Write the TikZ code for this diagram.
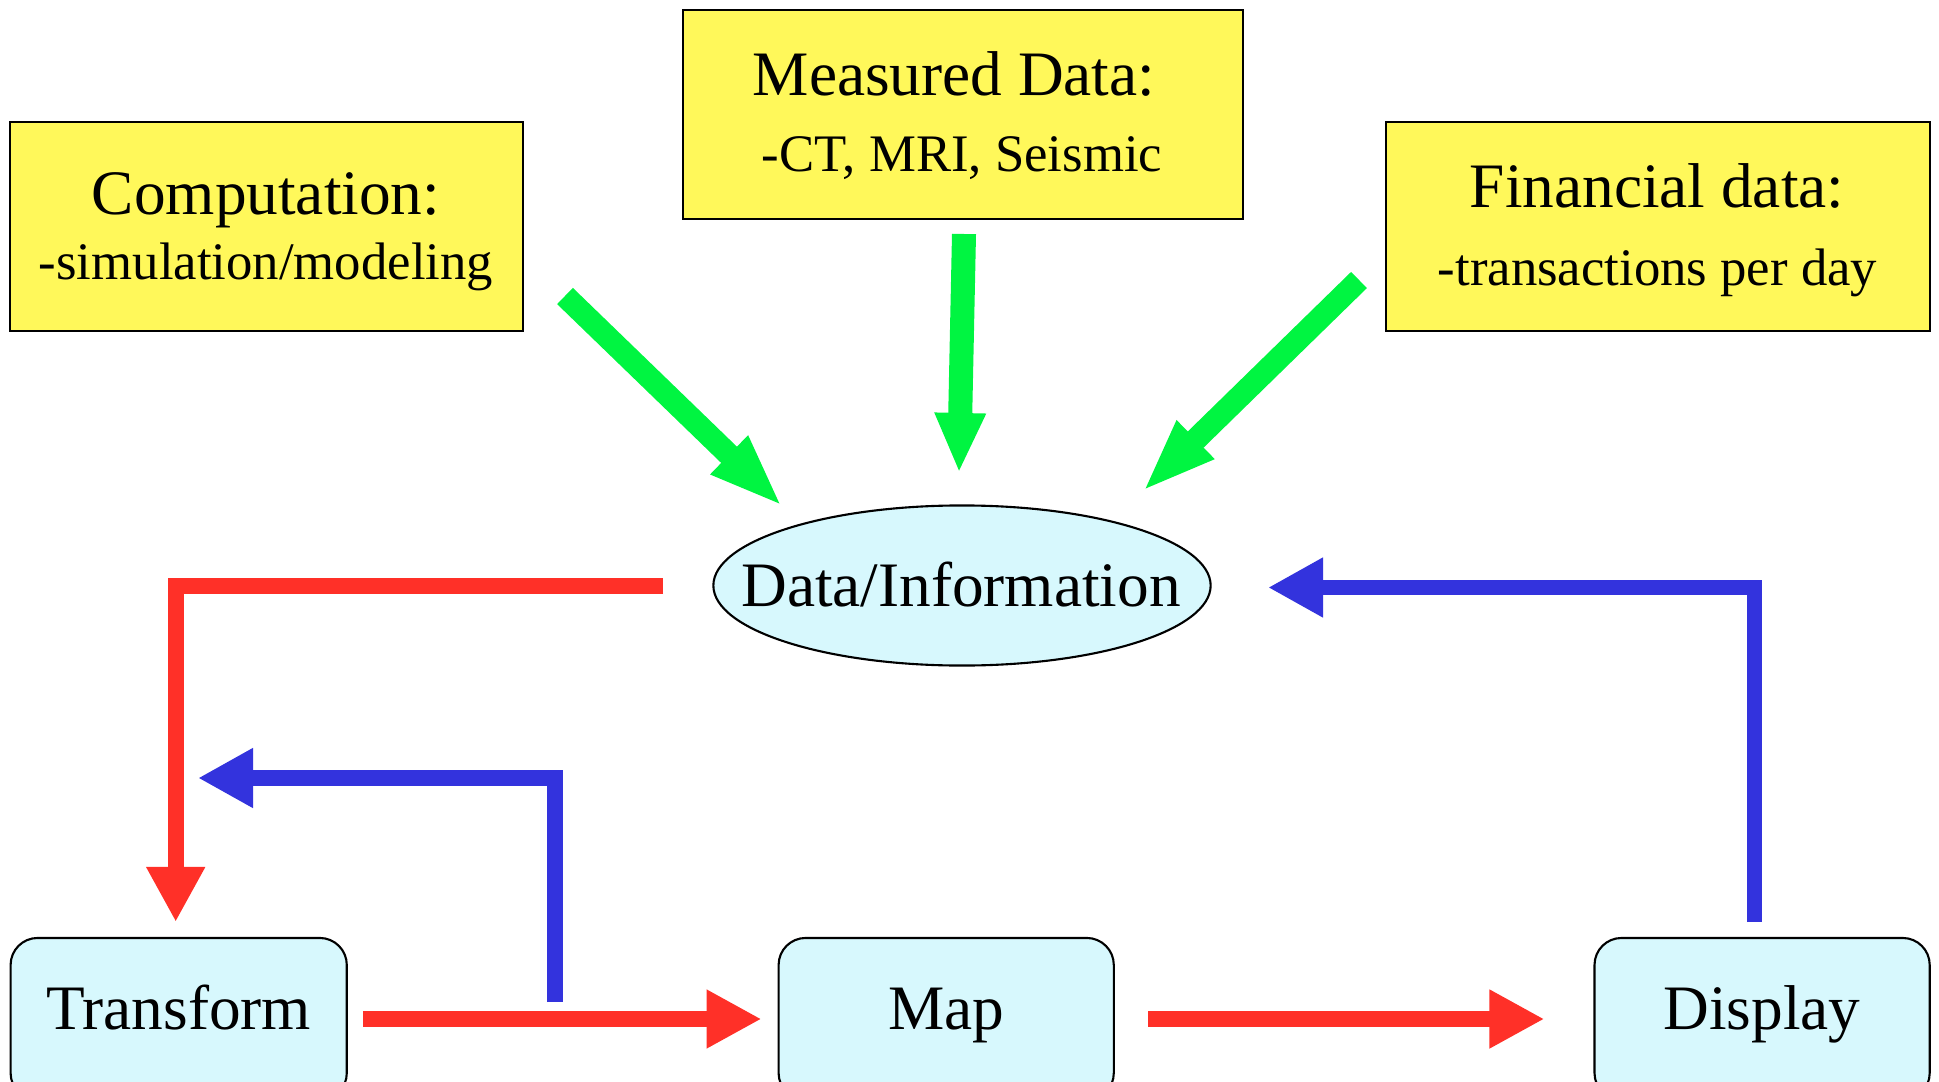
\documentclass[tikz,border=0pt]{standalone}
\usepackage{fontspec}
\setmainfont{Liberation Serif}
\usetikzlibrary{arrows.meta,shapes.geometric}

\definecolor{boxyellow}{RGB}{255,248,90}
\definecolor{boxcyan}{RGB}{215,248,253}
\definecolor{flowgreen}{RGB}{0,245,65}
\definecolor{flowred}{RGB}{255,48,40}
\definecolor{flowblue}{RGB}{51,51,221}

\begin{document}
\begin{tikzpicture}[x=0.01cm,y=-0.01cm,
		srcbox/.style={draw=black,line width=0.6pt,fill=boxyellow,minimum height=2.09cm,inner sep=0pt},
		stagebox/.style={draw=black,line width=0.6pt,fill=boxcyan,rounded corners=0.27cm,
			minimum width=3.35cm,minimum height=1.62cm,text height=0.44cm,text depth=0.24cm,
			font=\fontsize{18}{22}\selectfont},
		bigtext/.style={anchor=base,inner sep=0pt,font=\fontsize{18}{22}\selectfont},
		smalltext/.style={anchor=base,inner sep=0pt,font=\fontsize{15}{18}\selectfont},
		greenarrow/.style={draw=flowgreen,line width=0.226cm,-{Triangle[length=0.75cm,width=0.48cm]}},
		redarrow/.style={draw=flowred,line width=0.16cm,-{Triangle[length=0.55cm,width=0.55cm]}},
		bluearrow/.style={draw=flowblue,line width=0.158cm,-{Triangle[length=0.55cm,width=0.56cm]}}]
			\useasboundingbox (0,0) rectangle (1939,1082);
			\clip (0,0) rectangle (1939,1082);
			% sources of data
			\node [srcbox,minimum width=5.13cm] (comp) at (266.5,226.5) {};
			\node [srcbox,minimum width=5.60cm] (meas) at (963,114.5) {};
			\node [srcbox,minimum width=5.44cm] (fin) at (1658,226.5) {};
			\node [bigtext] (comptitle) at (266,215) {Computation:};
			\node [smalltext] (compsub) at (266,280) {-simulation/modeling};
			\node [bigtext] (meastitle) at (954,95.5) {Measured Data:};
			\node [smalltext] (meassub) at (962,172) {-CT, MRI, Seismic};
			\node [bigtext] (fintitle) at (1657,208) {Financial data:};
			\node [smalltext] (finsub) at (1657.5,285) {-transactions per day};
			% data/information
			\node [draw=black,line width=0.6pt,fill=boxcyan,ellipse,minimum width=4.97cm,minimum height=1.6cm,inner sep=0pt] (info) at (962,585.5) {};
			\node [bigtext] (infotext) at (961,606) {Data/Information};
			% pipeline
			\node [stagebox,minimum width=3.36cm] (trans) at (178.7,1019) {Transform};
			\node [stagebox] (map) at (946.2,1019) {Map};
			\node [stagebox] (disp) at (1762.1,1019) {Display};
			% arrow ends
			\coordinate (compout) at (565,296);
			\coordinate (infoNW) at (783,507);
			\coordinate (measout) at (964,234);
			\coordinate (infoN) at (959,473);
			\coordinate (finout) at (1359,280);
			\coordinate (infoNE) at (1142,492);
			\coordinate (infoW) at (663,586);
			\coordinate (transin) at (175.7,922);
			\coordinate (dispout) at (1754.5,922);
			\coordinate (infoE) at (1268,587.5);
			\coordinate (mapback) at (555,1002);
			\coordinate (transback) at (198,778);
			% green: sources into data
			\draw [greenarrow] (compout) -- (infoNW);
			\draw [greenarrow,line width=0.24cm,-{Triangle[length=0.6cm,width=0.47cm]}] (measout) -- (infoN);
			\draw [greenarrow] (finout) -- (infoNE);
			% red: forward flow
			\draw [redarrow] (infoW) -| (transin);
			\draw [redarrow,shorten <=0.15cm,shorten >=0.16cm] (trans) -- (map);
			\draw [redarrow,shorten <=0.335cm,shorten >=0.49cm] (map) -- (disp);
			% blue: feedback
			\draw [bluearrow] (dispout) |- (infoE);
			\draw [bluearrow] (mapback) |- (transback);
		\end{tikzpicture}
\end{document}
